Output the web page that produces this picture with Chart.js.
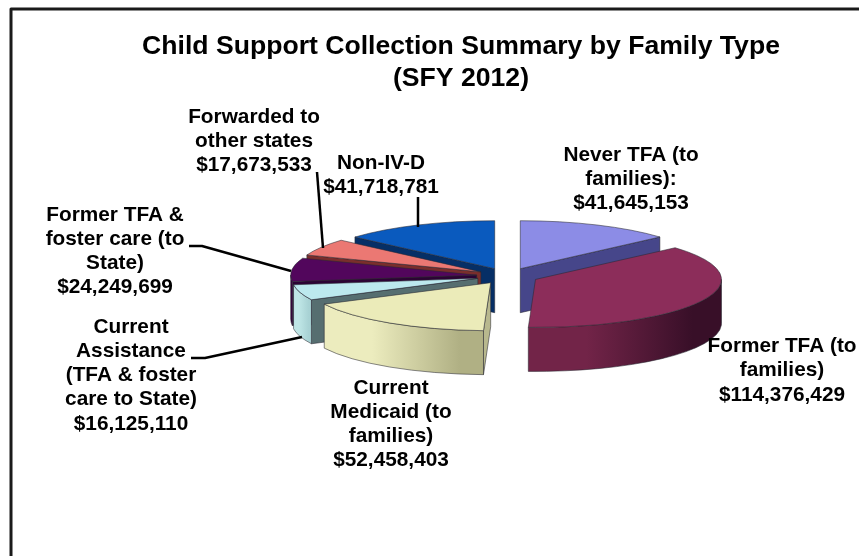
<!DOCTYPE html>
<html>
<head>
<meta charset="utf-8">
<title>Child Support Collection Summary</title>
<script src="https://cdn.jsdelivr.net/npm/chart.js@4"></script>
<style>
  html, body { margin: 0; padding: 0; background: #fff; }
  #wrap { position: relative; width: 859px; height: 556px; overflow: hidden; }
</style>
</head>
<body>
<div id="wrap"><canvas id="chart" width="859" height="556"></canvas></div>
<script>
// Collections by family type, clockwise from twelve o'clock
const categories = [
  "Never TFA (to families)",
  "Former TFA (to families)",
  "Current Medicaid (to families)",
  "Current Assistance (TFA & foster care to State)",
  "Former TFA & foster care (to State)",
  "Forwarded to other states",
  "Non-IV-D"
];
const collections = [41645153, 114376429, 52458403, 16125110, 24249699, 17673533, 41718781];
const titleLines = ["Child Support Collection Summary by Family Type", "(SFY 2012)"];

// Wrapped caption of each slice; the dollar figure is appended from the data
const captionLines = [
  ["Never TFA (to", "families):"],
  ["Former TFA (to", "families)"],
  ["Current", "Medicaid (to", "families)"],
  ["Current", "Assistance", "(TFA & foster", "care to State)"],
  ["Former TFA &", "foster care (to", "State)"],
  ["Forwarded to", "other states"],
  ["Non-IV-D"]
];

// Slice colours: top face, cut face, rim at its left and right ends
const topColors = ["#8c8ce6", "#8c2d5a", "#ebebb9", "#bce9ee", "#52065c", "#eb7873", "#0a5abe"];
const cutColors = ["#46468a", "#5a1a3a", "#b8b88e", "#566e70", "#2c0334", "#7a2e2c", "#062f66"];
const rimLeft   = ["#46468a", "#722448", "#ececbe", "#bfe6e6", "#38003f", "#8a3a38", "#062f66"];
const rimRight  = ["#46468a", "#380f28", "#b0b084", "#a8d2d4", "#38003f", "#8a3a38", "#062f66"];

// Back-to-front painting order of the slices
const paintOrder = [6, 0, 5, 4, 3, 2, 1];

// Pie geometry
const PIE_CX = 507.5, PIE_CY = 276, PIE_R = 186;
const TILT = 0.258, DEPTH = 44, EXPLODE = 31;

// Caption anchors: centre x and centre y of the first line
const captionAnchors = [
  [631, 155], [782, 346.5], [391, 388], [131, 327], [115, 215], [254, 117], [381, 163]
];
// Leader lines from caption to slice
const leaders = [
  [[317, 172], [323, 248]],
  [[418, 197], [418, 227]],
  [[189, 246], [202, 246], [291, 271]],
  [[191, 358], [205, 358], [302, 337]]
];

const LABEL_FONT = 'bold 20.8px "Liberation Sans", Arial, sans-serif';
const LABEL_LEADING = 24.2;

function sliceGeometry(arc) {
  const mid = (arc.startAngle + arc.endAngle) / 2;
  return {
    cx: PIE_CX + Math.cos(mid) * EXPLODE,
    cy: PIE_CY + Math.sin(mid) * EXPLODE * TILT,
    rx: arc.outerRadius,
    ry: arc.outerRadius * TILT,
    a0: arc.startAngle,
    a1: arc.endAngle
  };
}

function fillCutFace(ctx, g, angle, color) {
  const x = g.cx + Math.cos(angle) * g.rx;
  const y = g.cy + Math.sin(angle) * g.ry;
  ctx.beginPath();
  ctx.moveTo(g.cx, g.cy);
  ctx.lineTo(x, y);
  ctx.lineTo(x, y + DEPTH);
  ctx.lineTo(g.cx, g.cy + DEPTH);
  ctx.closePath();
  ctx.fillStyle = color;
  ctx.fill();
  ctx.lineWidth = 1;
  ctx.strokeStyle = "rgba(40,40,50,0.55)";
  ctx.stroke();
}

function fillRim(ctx, g, i) {
  const lo = Math.max(g.a0, 0), hi = Math.min(g.a1, Math.PI);
  if (lo >= hi) return;
  const xa = g.cx + Math.cos(hi) * g.rx, xb = g.cx + Math.cos(lo) * g.rx;
  const grad = ctx.createLinearGradient(xa, 0, xb, 0);
  grad.addColorStop(0, rimLeft[i]);
  grad.addColorStop(0.3, rimLeft[i]);
  grad.addColorStop(0.85, rimRight[i]);
  grad.addColorStop(1, rimRight[i]);
  ctx.beginPath();
  ctx.ellipse(g.cx, g.cy, g.rx, g.ry, 0, lo, hi);
  ctx.ellipse(g.cx, g.cy + DEPTH, g.rx, g.ry, 0, hi, lo, true);
  ctx.closePath();
  ctx.fillStyle = grad;
  ctx.fill();
  ctx.lineWidth = 1;
  ctx.strokeStyle = "rgba(40,40,50,0.55)";
  ctx.stroke();
}

function outlineTop(ctx, g) {
  ctx.beginPath();
  ctx.moveTo(g.cx, g.cy);
  ctx.ellipse(g.cx, g.cy, g.rx, g.ry, 0, g.a0, g.a1);
  ctx.closePath();
  ctx.lineWidth = 1;
  ctx.strokeStyle = "rgba(40,40,50,0.55)";
  ctx.stroke();
}

// Paints the tilted, exploded pie in place of the flat one
const extrudedPie = {
  id: "extrudedPie",
  beforeDatasetDraw(chart) {
    const ctx = chart.ctx;
    const arcs = chart.getDatasetMeta(0).data;
    for (const i of paintOrder) {
      const arc = arcs[i];
      const g = sliceGeometry(arc);
      if (-Math.cos(g.a0) > 1e-3) fillCutFace(ctx, g, g.a0, cutColors[i]);
      if (Math.cos(g.a1) > 1e-3) fillCutFace(ctx, g, g.a1, cutColors[i]);
      fillRim(ctx, g, i);
      ctx.save();
      ctx.translate(g.cx, g.cy);
      ctx.scale(1, TILT);
      ctx.translate(-arc.x, -arc.y);
      arc.draw(ctx);
      ctx.restore();
      outlineTop(ctx, g);
    }
    return false;
  }
};

// Frame, leader lines and slice captions
const annotations = {
  id: "annotations",
  afterDraw(chart) {
    const ctx = chart.ctx;
    ctx.save();
    ctx.strokeStyle = "#000";
    ctx.lineWidth = 2.5;
    ctx.lineJoin = "round";
    for (const pts of leaders) {
      ctx.beginPath();
      pts.forEach((p, k) => k ? ctx.lineTo(p[0], p[1]) : ctx.moveTo(p[0], p[1]));
      ctx.stroke();
    }
    ctx.lineWidth = 3;
    ctx.strokeStyle = "#1a1a1a";
    ctx.beginPath();
    ctx.moveTo(859, 9);
    ctx.lineTo(11, 9);
    ctx.lineTo(11, 556);
    ctx.stroke();

    ctx.font = LABEL_FONT;
    ctx.fillStyle = "#000";
    ctx.textAlign = "center";
    ctx.textBaseline = "middle";
    captionLines.forEach((lines, i) => {
      const text = lines.concat("$" + collections[i].toLocaleString("en-US"));
      text.forEach((line, k) => {
        ctx.fillText(line, captionAnchors[i][0], captionAnchors[i][1] + k * LABEL_LEADING);
      });
    });
    ctx.restore();
  }
};

new Chart(document.getElementById("chart"), {
  type: "pie",
  data: {
    labels: categories,
    datasets: [{
      data: collections,
      backgroundColor: topColors,
      borderWidth: 0,
      radius: PIE_R
    }]
  },
  options: {
    responsive: false,
    animation: false,
    events: [],
    layout: { padding: { left: 63, right: 0, top: 0, bottom: 0 } },
    plugins: {
      legend: { display: false },
      tooltip: { enabled: false },
      title: {
        display: true,
        text: titleLines,
        color: "#000",
        font: { family: '"Liberation Sans", Arial, sans-serif', size: 26.6, weight: "bold", lineHeight: 1.2 },
        padding: { top: 31, bottom: 0 }
      }
    }
  },
  plugins: [extrudedPie, annotations]
});
</script>
</body>
</html>
